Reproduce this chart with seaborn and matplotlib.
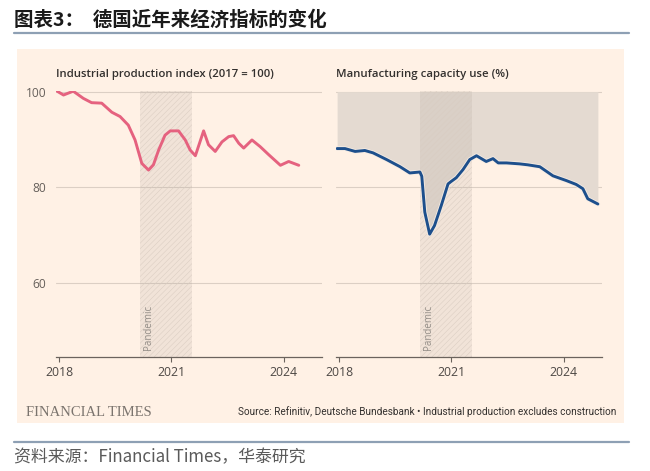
import matplotlib
matplotlib.use("Agg")
import matplotlib.pyplot as plt
import matplotlib.patheffects as pe
from matplotlib.patches import Rectangle
from matplotlib.lines import Line2D
import seaborn as sns
import pandas as pd

# ---------------- data ----------------
ip_year = [2017.95, 2018.12, 2018.38, 2018.65, 2018.87, 2019.14, 2019.41, 2019.63,
           2019.85, 2020.03, 2020.21, 2020.39, 2020.52, 2020.66, 2020.83, 2020.97,
           2021.19, 2021.37, 2021.50, 2021.64, 2021.75, 2021.86, 2021.99, 2022.17,
           2022.35, 2022.53, 2022.66, 2022.80, 2022.93, 2023.15, 2023.37, 2023.60,
           2023.91, 2024.13, 2024.40]
ip_value = [100.1, 99.3, 100.1, 98.6, 97.7, 97.6, 95.7, 94.8,
            93.0, 89.9, 85.0, 83.6, 84.7, 87.8, 90.9, 91.8,
            91.8, 89.9, 87.8, 86.6, 89.2, 91.8, 88.9, 87.5,
            89.5, 90.6, 90.8, 89.2, 88.2, 89.9, 88.5, 86.8,
            84.6, 85.4, 84.6]

cu_year = [2017.95, 2018.16, 2018.43, 2018.69, 2018.91, 2019.27, 2019.63, 2019.89,
           2020.16, 2020.21, 2020.29, 2020.42, 2020.55, 2020.73, 2020.91, 2020.99,
           2021.13, 2021.31, 2021.49, 2021.67, 2021.93, 2022.11, 2022.25, 2022.47,
           2022.82, 2023.04, 2023.36, 2023.71, 2024.07, 2024.33, 2024.51, 2024.64,
           2024.91]
cu_value = [88.1, 88.1, 87.5, 87.7, 87.2, 85.8, 84.3, 83.0,
            83.2, 82.3, 74.8, 70.2, 72.0, 76.2, 80.7, 81.2,
            82.0, 83.7, 85.8, 86.6, 85.4, 86.0, 85.1, 85.1,
            84.9, 84.7, 84.3, 82.4, 81.4, 80.6, 79.7, 77.6,
            76.5]

pandemic = (2020.17, 2021.55)
x_ticks = [2018, 2021, 2024]
y_ticks = [60, 80, 100]

title_text = "图表3：  德国近年来经济指标的变化"
left_title = "Industrial production index (2017 = 100)"
right_title = "Manufacturing capacity use (%)"
source_text = "Source: Refinitiv, Deutsche Bundesbank • Industrial production excludes construction"
brand_text = "FINANCIAL TIMES"
footer_text = "资料来源：Financial Times，华泰研究"

# ---------------- style ----------------
sns.set_theme(style="white")
plt.rcParams['font.family'] = ['Open Sans', 'DejaVu Sans']
plt.rcParams['hatch.linewidth'] = 0.35

W, H = 650, 471
fig = plt.figure(figsize=(W / 100, H / 100), dpi=100)
fig.patch.set_facecolor("white")

def fx(px):
    return px / W

def fy(py):
    return 1 - py / H

# FT panel background
fig.patches.append(Rectangle((fx(17), fy(423)), fx(624) - fx(17), fy(49) - fy(423),
                             transform=fig.transFigure, facecolor="#fff1e5",
                             edgecolor="none", zorder=-10))

# title + rules
fig.text(fx(14), fy(20), title_text, fontsize=14, fontweight="bold", color="#1a1a1a",
         va="center", ha="left", family=['Noto Sans CJK SC', 'DejaVu Sans'])
fig.add_artist(Line2D([fx(14), fx(629)], [fy(33), fy(33)], transform=fig.transFigure,
                      color="#8ea0b4", lw=1.6))
fig.add_artist(Line2D([fx(14), fx(629)], [fy(442), fy(442)], transform=fig.transFigure,
                      color="#8ea0b4", lw=1.6))
fig.text(fx(14), fy(457), footer_text, fontsize=12.2, color="#5a5a5a", va="center",
         ha="left", family=['Noto Sans CJK SC', 'DejaVu Sans'], fontweight="light")

fig.text(fx(26), fy(412), brand_text, fontsize=10.5, color="#7b746e", va="center",
         ha="left", family=['Liberation Serif'])
fig.text(fx(616), fy(412), source_text, fontsize=7.2, color="#33302e", va="center",
         ha="right", family=['Roboto', 'DejaVu Sans'])

fig.text(fx(56), fy(74), left_title, fontsize=8.2, color="#33302e", va="center",
         ha="left", fontweight="semibold")
fig.text(fx(336), fy(74), right_title, fontsize=8.2, color="#33302e", va="center",
         ha="left", fontweight="semibold")

ax_bottom = fy(357)
ax_h = (357 - 91.2) / H
axL = fig.add_axes([fx(56), ax_bottom, 266 / W, ax_h])
axR = fig.add_axes([fx(336), ax_bottom, 266 / W, ax_h])

grid_c = "#dccfc4"
axis_c = "#6b635d"
tick_c = "#4d4845"

for ax in (axL, axR):
    ax.set_facecolor("none")
    ax.patch.set_visible(False)
    ax.set_xlim(2017.92, 2025.02)
    ax.set_ylim(44.5, 100.1)
    for s in ("top", "right", "left"):
        ax.spines[s].set_visible(False)
    ax.spines["bottom"].set_color(axis_c)
    ax.spines["bottom"].set_linewidth(0.9)
    ax.set_xticks(x_ticks)
    ax.set_xticklabels([str(t) for t in x_ticks])
    ax.tick_params(axis="x", direction="out", length=3.5, width=0.8, color=axis_c,
                   labelsize=8.8, labelcolor=tick_c, pad=3, bottom=True)
    ax.set_yticks(y_ticks)
    ax.tick_params(axis="y", length=0, labelsize=8.6, labelcolor="#66605b", pad=7)
    for v in y_ticks:
        ax.axhline(v, color=grid_c, lw=0.8, zorder=0.5)
    ax.axvspan(pandemic[0], pandemic[1], facecolor=(0.62, 0.58, 0.55, 0.14),
               edgecolor="#d9ccc1", hatch="//////", lw=0, zorder=1.5)
    ax.text(pandemic[0] + 0.23, 46.0, "Pandemic", rotation=90, fontsize=7,
            color="#948e88", ha="center", va="bottom", zorder=2)

axR.set_yticklabels([])

ip_df = pd.DataFrame({"year": ip_year, "value": ip_value})
cu_df = pd.DataFrame({"year": cu_year, "value": cu_value})

axR.fill_between(cu_df["year"], cu_df["value"], 100, color="#e4dad1", lw=0, zorder=1)

sns.lineplot(data=ip_df, x="year", y="value", ax=axL, color="#e5627f", lw=2.1,
             sort=False, estimator=None, zorder=3,
             solid_joinstyle="round", solid_capstyle="round")
sns.lineplot(data=cu_df, x="year", y="value", ax=axR, color="#1d4f8c", lw=2.1,
             sort=False, estimator=None, zorder=3,
             solid_joinstyle="round", solid_capstyle="round",
             path_effects=[pe.Stroke(linewidth=3.3, foreground="#f6ece3"), pe.Normal()])

for ax in (axL, axR):
    ax.set_xlabel("")
    ax.set_ylabel("")

fig.savefig("out.png", dpi=100, facecolor="white")
